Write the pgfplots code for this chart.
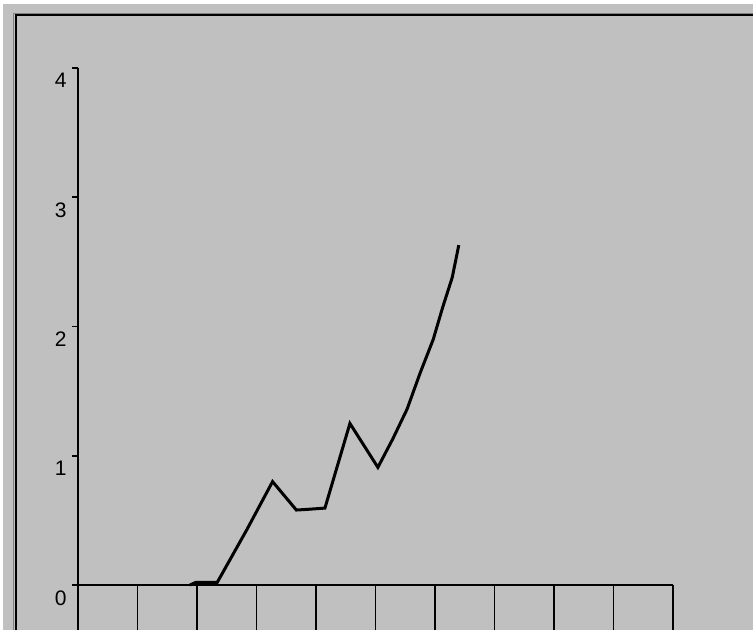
\documentclass[border=0pt]{standalone}
\usepackage{pgfplots}
\pgfplotsset{compat=1.18}
\usepackage{fontspec}
\setmainfont{Liberation Sans}

\definecolor{winbg}{HTML}{C0C0C0}
\definecolor{winshade}{HTML}{808080}

\pgfplotstableread{
x     y
1.88  0.00
1.98  0.02
2.34  0.02
2.84  0.43
3.27  0.80
3.67  0.58
3.85  0.585
4.15  0.595
4.57  1.25
5.04  0.91
5.29  1.13
5.53  1.36
5.75  1.64
5.97  1.90
6.13  2.15
6.29  2.38
6.40  2.63
}\curve

\begin{document}
% one unit = one pixel of the 753x630 reference, origin bottom left
\begin{tikzpicture}[x=0.5pt,y=0.5pt]
  \useasboundingbox (0,0) rectangle (753,630);
  \clip (0,0) rectangle (753,630);
  \fill[white] (0,0) rectangle (753,630);
  \fill[winbg] (3,0) rectangle (753,626);
  % sunken frame
  \draw[winshade,line width=0.5pt] (13.5,0) -- (13.5,616.5) -- (753,616.5);
  \draw[black,line width=1pt] (15.5,0) -- (15.5,614.5) -- (753,614.5);

  \begin{axis}[
      at={(39pt,-3.35pt)}, anchor=south west,
      scale only axis,
      width=297.5pt, height=284.35pt,
      xmin=0, xmax=10, ymin=-0.4, ymax=4,
      clip=false,
      axis x line=middle, axis y line=left,
      axis line style={-, line width=0.8pt},
      xtick=\empty,
      ytick={0,1,2,3,4},
      tick align=outside,
      major tick length=3pt,
      tick style={line width=0.8pt, black},
      /pgf/number format/assume math mode=true,
      yticklabel style={font=\fontsize{10.5}{12}\selectfont,
        anchor=north east, inner sep=0pt, xshift=-2.5pt, yshift=-2.5pt},
    ]
    \pgfplotsinvokeforeach{0,...,10}{
      \draw[line width=0.8pt] (axis cs:#1,0) -- (axis cs:#1,-0.4);
    }
    \addplot[black, line width=1.5pt, line join=miter] table[x=x,y=y] {\curve};
  \end{axis}
\end{tikzpicture}
\end{document}
